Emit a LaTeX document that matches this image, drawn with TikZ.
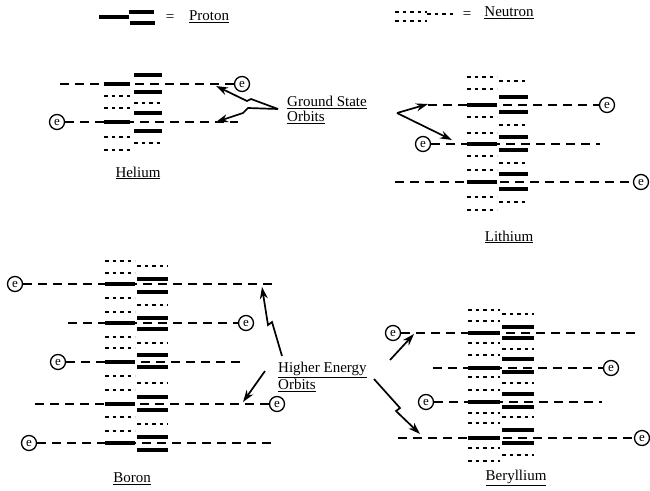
\documentclass[tikz,border=0pt]{standalone}
\usepackage{fontspec}
\setmainfont{Liberation Serif}
\usetikzlibrary{positioning,arrows.meta}

\begin{document}
\begin{tikzpicture}[x=1pt,y=-1pt,
    proton/.style={line width=4.2pt},
    neutron/.style={line width=2.5pt,dash pattern=on 3.5pt off 4pt},
    orbit/.style={line width=1.6pt,dash pattern=on 9pt off 6pt},
    elec/.style={draw,circle,line width=1.3pt,inner sep=0pt,minimum size=15pt,fill=white,font=\fontsize{13}{13}\selectfont},
    lbl/.style={inner sep=0pt,font=\fontsize{15}{15.5}\selectfont},
    zap/.style={line width=1.7pt,-{Stealth[length=12pt,width=8pt]}}]
    \useasboundingbox (0,0) rectangle (650,490);

    % Legend
    \draw[proton] (99,17) -- (129,17);
    \draw[proton] (129,12) -- (154,12);
    \draw[proton] (130,23) -- (155,23);
    \node[lbl] (peq) at (170,18) {=};
    \node[lbl] (ptxt) at (209,17) {\underline{Proton}};
    \draw[neutron] (395,12) -- (427,12);
    \draw[neutron] (395,21) -- (427,21);
    \draw[neutron] (427,14) -- (455,14);
    \node[lbl] (neq) at (467,15) {=};
    \node[lbl] (ntxt) at (509,13) {\underline{Neutron}};

    % Helium
    \node[elec] (he1) at (242,84) {e};
    \node[elec] (he2) at (57,122) {e};
    \coordinate (heo1) at (60,84);
    \coordinate (heo2) at (238,122);
    \draw[orbit] (heo1) -- (he1);
    \draw[orbit] (he2) -- (heo2);
    \foreach \y in {84,122} \draw[proton] (104,\y) -- (130,\y);
    \foreach \y in {96,108,137,150} \draw[neutron] (104,\y) -- (130,\y);
    \foreach \y in {75,92,113,131} \draw[proton] (134,\y) -- (162,\y);
    \foreach \y in {103,143} \draw[neutron] (134,\y) -- (162,\y);
    \node[lbl] (helium) at (138,173) {\underline{Helium}};

    % Lithium
    \node[elec] (li1) at (607,105) {e};
    \node[elec] (li2) at (423,144) {e};
    \node[elec] (li3) at (641,182) {e};
    \coordinate (lio1) at (428,105);
    \coordinate (lio2) at (600,144);
    \coordinate (lio3) at (395,182);
    \draw[orbit] (lio1) -- (li1);
    \draw[orbit] (li2) -- (lio2);
    \draw[orbit] (lio3) -- (li3);
    \foreach \y in {105,144,182} \draw[proton] (467,\y) -- (497,\y);
    \foreach \y in {77,89,117,133,156,170,197,210} \draw[neutron] (467,\y) -- (497,\y);
    \foreach \y in {97,112,137,150,174,189} \draw[proton] (499,\y) -- (528,\y);
    \foreach \y in {81,125,163,202} \draw[neutron] (499,\y) -- (528,\y);
    \node[lbl] (lithium) at (509,237) {\underline{Lithium}};

    % Boron
    \node[elec] (bo1) at (15,284) {e};
    \node[elec] (bo2) at (246,323) {e};
    \node[elec] (bo3) at (58,362) {e};
    \node[elec] (bo4) at (277,404) {e};
    \node[elec] (bo5) at (29,443) {e};
    \coordinate (boo1) at (273,284);
    \coordinate (boo2) at (68,323);
    \coordinate (boo3) at (240,362);
    \coordinate (boo4) at (35,404);
    \coordinate (boo5) at (273,443);
    \draw[orbit] (bo1) -- (boo1);
    \draw[orbit] (boo2) -- (bo2);
    \draw[orbit] (bo3) -- (boo3);
    \draw[orbit] (boo4) -- (bo4);
    \draw[orbit] (bo5) -- (boo5);
    \foreach \y in {284,323,362,404,443} \draw[proton] (105,\y) -- (135,\y);
    \foreach \y in {261,273,298,312,337,348,376,390,417,431} \draw[neutron] (105,\y) -- (135,\y);
    \foreach \y in {279,292,318,329,355,367,397,410,437,450} \draw[proton] (137,\y) -- (168,\y);
    \foreach \y in {266,305,343,383,424} \draw[neutron] (137,\y) -- (168,\y);
    \node[lbl] (boron) at (132,479) {\underline{Boron}};

    % Beryllium
    \node[elec] (be1) at (393,333) {e};
    \node[elec] (be2) at (611,368) {e};
    \node[elec] (be3) at (426,402) {e};
    \node[elec] (be4) at (642,438) {e};
    \coordinate (beo1) at (635,333);
    \coordinate (beo2) at (433,368);
    \coordinate (beo3) at (602,402);
    \coordinate (beo4) at (398,438);
    \draw[orbit] (be1) -- (beo1);
    \draw[orbit] (beo2) -- (be2);
    \draw[orbit] (be3) -- (beo3);
    \draw[orbit] (beo4) -- (be4);
    \foreach \y in {333,368,402,438} \draw[proton] (468,\y) -- (500,\y);
    \foreach \y in {310,321,343,355,377,390,413,423,448,461} \draw[neutron] (468,\y) -- (500,\y);
    \foreach \y in {327,338,359,372,394,407,430,443} \draw[proton] (502,\y) -- (534,\y);
    \foreach \y in {314,349,383,417,455} \draw[neutron] (502,\y) -- (534,\y);
    \node[lbl] (beryllium) at (516,478) {\underline{Beryllium}};

    % Ground state orbits
    \node[lbl,anchor=west,align=left] (gs) at (287,110) {\underline{Ground State}\\\underline{Orbits}};
    \coordinate (gsA) at (278,109);
    \coordinate (gsB) at (397,113);
    \coordinate (heT1) at (216,86);
    \coordinate (heT2) at (216,122);
    \coordinate (liT1) at (428,104);
    \coordinate (liT2) at (452,140);
    \draw[zap] (gsA) -- (251,99) -- (247,101) -- (heT1);
    \draw[zap] (gsA) -- (248,108) -- (243,113) -- (heT2);
    \draw[zap] (gsB) -- (liT1);
    \draw[zap] (gsB) -- (liT2);

    % Higher energy orbits
    \node[lbl,anchor=west,align=left] (hi) at (278,377) {\underline{Higher Energy}\\\underline{Orbits}};
    \coordinate (hiA) at (282,356);
    \coordinate (hiB) at (265,371);
    \coordinate (hiC) at (390,360);
    \coordinate (hiD) at (374,379);
    \coordinate (boT1) at (262,287);
    \coordinate (boT4) at (243,402);
    \coordinate (beT1) at (414,334);
    \coordinate (beT4) at (420,434);
    \draw[zap] (hiA) -- (272,322) -- (268,325) -- (boT1);
    \draw[zap] (hiB) -- (boT4);
    \draw[zap] (hiC) -- (beT1);
    \draw[zap] (hiD) -- (400,408) -- (396,411) -- (beT4);
\end{tikzpicture}
\end{document}
